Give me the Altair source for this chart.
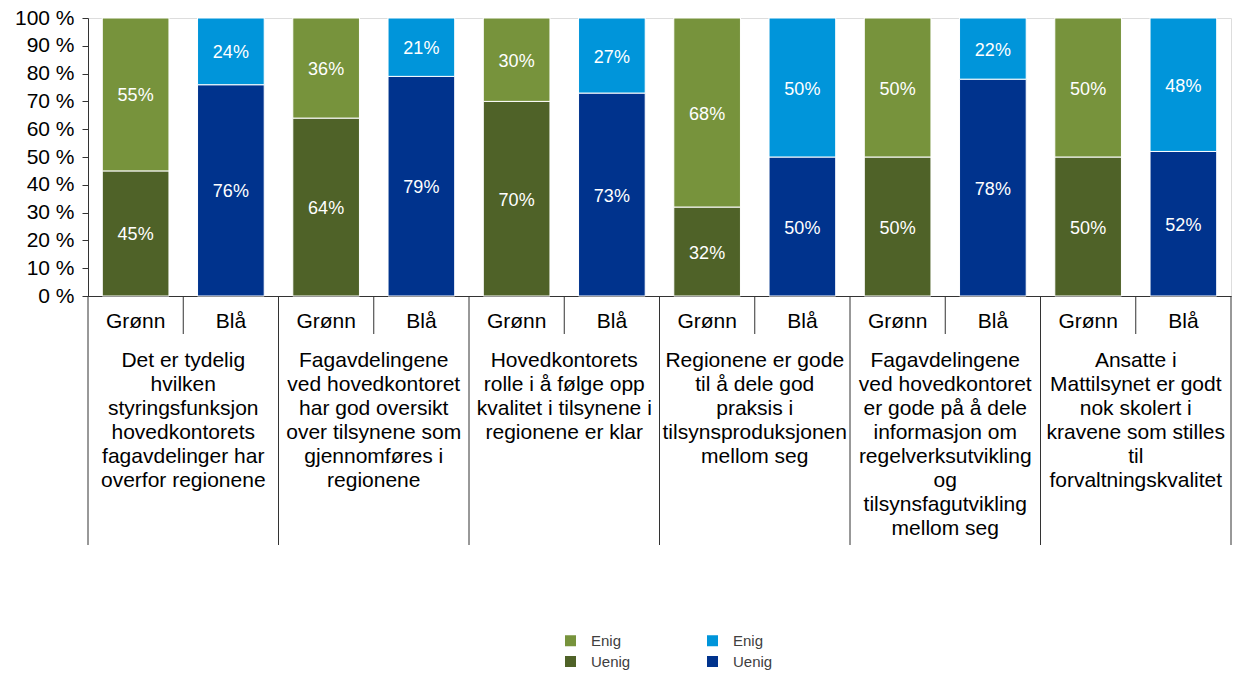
import altair as alt
import pandas as pd

groups = [
    "Det er tydelig\nhvilken\nstyringsfunksjon\nhovedkontorets\nfagavdelinger har\noverfor regionene",
    "Fagavdelingene\nved hovedkontoret\nhar god oversikt\nover tilsynene som\ngjennomføres i\nregionene",
    "Hovedkontorets\nrolle i å følge opp\nkvalitet i tilsynene i\nregionene er klar",
    "Regionene er gode\ntil å dele god\npraksis i\ntilsynsproduksjonen\nmellom seg",
    "Fagavdelingene\nved hovedkontoret\ner gode på å dele\ninformasjon om\nregelverksutvikling\nog\ntilsynsfagutvikling\nmellom seg",
    "Ansatte i\nMattilsynet er godt\nnok skolert i\nkravene som stilles\ntil\nforvaltningskvalitet",
]
series = ["Grønn", "Blå"]
responses = ["Uenig", "Enig"]
uenig_gronn = [45, 64, 70, 32, 50, 50]
enig_gronn = [55, 36, 30, 68, 50, 50]
uenig_bla = [76, 79, 73, 50, 78, 52]
enig_bla = [24, 21, 27, 50, 22, 48]
y_ticks = [0, 10, 20, 30, 40, 50, 60, 70, 80, 90, 100]

legend_domain = ["Grønn Enig", "Grønn Uenig", "Blå Enig", "Blå Uenig"]
legend_colors = ["#77933C", "#4F6228", "#0095DA", "#00338D"]

values = {
    "Grønn": (uenig_gronn, enig_gronn),
    "Blå": (uenig_bla, enig_bla),
}

rows = []
for g in range(len(groups)):
    for s_i, s in enumerate(series):
        idx = 2 * g + s_i
        u = values[s][0][g]
        e = values[s][1][g]
        rows.append({"idx": idx, "series": s, "resp": "Uenig", "v0": 0, "v1": u, "val": u,
                     "key": f"{s} Uenig"})
        rows.append({"idx": idx, "series": s, "resp": "Enig", "v0": u, "v1": u + e, "val": e,
                     "key": f"{s} Enig"})
df = pd.DataFrame(rows)

cat_df = pd.DataFrame({"idx": list(range(12)),
                       "series": [series[i % 2] for i in range(12)]})
grp_df = pd.DataFrame({"g": list(range(6)), "label": groups})
big_sep = pd.DataFrame({"pos": [0, 2, 4, 6, 8, 10, 12]})
small_sep = pd.DataFrame({"pos": [1, 3, 5, 7, 9, 11]})

FONT = "Liberation Sans"
xscale = alt.Scale(domain=[0, 12], nice=False, zero=False)
yscale = alt.Scale(domain=[0, 100], nice=False)

x_axis = alt.Axis(labels=False, ticks=False, grid=False, title=None,
                  domainColor="#333333", domainWidth=1)
y_axis = alt.Axis(values=y_ticks, labelExpr="datum.value + ' %'",
                  labelFont=FONT, labelFontSize=21, labelColor="#000000",
                  labelOverlap=False, labelBound=False, labelFlush=False,
                  tickSize=6, tickColor="#333333", domainColor="#333333",
                  grid=False, title=None, labelPadding=8)

bars = alt.Chart(df).transform_calculate(
    xa="datum.idx + 0.15", xb="datum.idx + 0.85"
).mark_bar(stroke="white", strokeWidth=1).encode(
    x=alt.X("xa:Q", scale=xscale, axis=x_axis),
    x2="xb:Q",
    y=alt.Y("v0:Q", scale=yscale, axis=y_axis),
    y2="v1:Q",
    color=alt.Color("key:N", scale=alt.Scale(domain=legend_domain, range=legend_colors),
                    legend=alt.Legend(orient="none", legendX=475, legendY=615, columns=2,
                                      title=None, symbolType="square", symbolSize=121,
                                      symbolStrokeWidth=0, labelFont=FONT, labelFontSize=15,
                                      labelColor="#404040", labelOffset=13,
                                      columnPadding=74, rowPadding=5, padding=0,
                                      labelExpr="split(datum.label, ' ')[1]")),
)

bar_text = alt.Chart(df).transform_calculate(
    xc="datum.idx + 0.5", ym="(datum.v0 + datum.v1) / 2",
    lab="datum.val + '%'"
).mark_text(color="white", font=FONT, fontSize=18, baseline="middle", dy=2).encode(
    x=alt.X("xc:Q", scale=xscale, axis=x_axis),
    y=alt.Y("ym:Q", scale=yscale, axis=y_axis), text="lab:N"
)

series_text = alt.Chart(cat_df).transform_calculate(
    xc="datum.idx + 0.5"
).mark_text(color="black", font=FONT, fontSize=21, baseline="middle").encode(
    x=alt.X("xc:Q", scale=xscale, axis=x_axis), y=alt.value(304), text="series:N"
)

group_text = alt.Chart(grp_df).transform_calculate(
    xc="datum.g * 2 + 1"
).mark_text(color="black", font=FONT, fontSize=21, baseline="top", lineBreak="\n",
            lineHeight=24, align="center").encode(
    x=alt.X("xc:Q", scale=xscale, axis=x_axis), y=alt.value(332), text="label:N"
)

big_rules = alt.Chart(big_sep).mark_rule(color="#333333", strokeWidth=1).encode(
    x=alt.X("pos:Q", scale=xscale, axis=x_axis), y=alt.value(278), y2=alt.value(527)
)
small_rules = alt.Chart(small_sep).mark_rule(color="#333333", strokeWidth=1).encode(
    x=alt.X("pos:Q", scale=xscale, axis=x_axis), y=alt.value(278), y2=alt.value(316)
)

chart = alt.layer(bars, bar_text, big_rules, small_rules, series_text, group_text).properties(
    width=1143, height=278,
    autosize=alt.AutoSizeParams(type="none"),
    padding={"left": 88, "top": 18, "right": 10, "bottom": 377},
).configure_view(stroke=None).configure(background="white")

chart.save("out.html", embed_options={"renderer": "svg", "actions": False})
